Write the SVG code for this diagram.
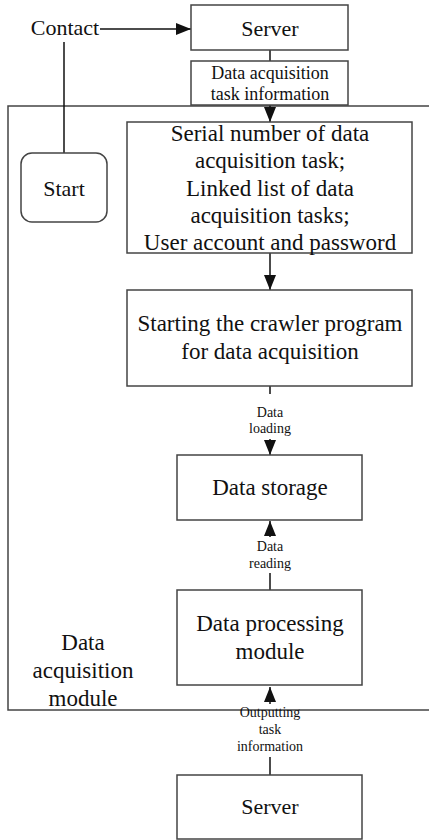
<svg xmlns="http://www.w3.org/2000/svg" width="429" height="840" viewBox="0 0 429 840" font-family="'Liberation Serif', 'DejaVu Serif', serif">
<style>
text{font-family:'Liberation Serif','DejaVu Serif',serif;fill:#111;text-anchor:middle}
.box{fill:#fff;stroke:#444;stroke-width:1.5}
.ln{stroke:#111;stroke-width:1.5;fill:none}
.big{font-size:23px}
.mid{font-size:22px}
.lbl{font-size:18px}
.sm{font-size:14px}
</style>
<defs>
<marker id="ah2" viewBox="0 0 15 12" refX="15" refY="6" markerWidth="15" markerHeight="12" markerUnits="userSpaceOnUse" orient="auto">
<path d="M0,0 L15,6 L0,12 Z" fill="#111"/>
</marker>
</defs>
<g id="module">
<rect class="box" x="8" y="106" width="430" height="604" fill="none"/>
<text class="big" x="83" y="650">Data</text>
<text class="big" x="83" y="678">acquisition</text>
<text class="big" x="83" y="706">module</text>
</g>
<g id="connectors">
<line class="ln" x1="100" y1="29" x2="191" y2="29" marker-end="url(#ah2)"/>
<line class="ln" x1="64" y1="42" x2="64" y2="153"/>
<line class="ln" x1="270" y1="50" x2="270" y2="61"/>
<line class="ln" x1="270" y1="105" x2="270" y2="122" marker-end="url(#ah2)"/>
<line class="ln" x1="270" y1="253" x2="270" y2="290" marker-end="url(#ah2)"/>
<line class="ln" x1="270" y1="386" x2="270" y2="394"/>
<line class="ln" x1="270" y1="439" x2="270" y2="455" marker-end="url(#ah2)"/>
<line class="ln" x1="270" y1="537" x2="270" y2="521" marker-end="url(#ah2)"/>
<line class="ln" x1="270" y1="573" x2="270" y2="590"/>
<line class="ln" x1="270" y1="704" x2="270" y2="687" marker-end="url(#ah2)"/>
<line class="ln" x1="270" y1="757" x2="270" y2="775"/>
<text class="sm" x="270" y="417">Data</text>
<text class="sm" x="270" y="433">loading</text>
<text class="sm" x="270" y="551">Data</text>
<text class="sm" x="270" y="568">reading</text>
<text class="sm" x="270" y="717">Outputting</text>
<text class="sm" x="270" y="734">task</text>
<text class="sm" x="270" y="751">information</text>
</g>
<g id="contact">
<text class="mid" x="65" y="35">Contact</text>
</g>
<g id="server-top">
<rect class="box" x="191" y="5" width="157" height="45"/>
<text class="mid" x="270" y="36">Server</text>
</g>
<g id="task-info">
<rect class="box" x="191" y="61" width="157" height="44"/>
<text class="lbl" x="270" y="79">Data acquisition</text>
<text class="lbl" x="270" y="100">task information</text>
</g>
<g id="start">
<rect class="box" x="21" y="153" width="86" height="69" rx="11"/>
<text class="mid" x="64" y="196">Start</text>
</g>
<g id="task-params">
<rect class="box" x="127" y="122" width="285" height="131"/>
<text class="big" x="270" y="141">Serial number of data</text>
<text class="big" x="270" y="168">acquisition task;</text>
<text class="big" x="270" y="196">Linked list of data</text>
<text class="big" x="270" y="223">acquisition tasks;</text>
<text class="big" x="270" y="250">User account and password</text>
</g>
<g id="crawler">
<rect class="box" x="127" y="290" width="285" height="96"/>
<text class="big" x="270" y="331">Starting the crawler program</text>
<text class="big" x="270" y="359">for data acquisition</text>
</g>
<g id="storage">
<rect class="box" x="177" y="455" width="185" height="65"/>
<text class="big" x="270" y="495">Data storage</text>
</g>
<g id="processing">
<rect class="box" x="177" y="590" width="185" height="95"/>
<text class="big" x="270" y="631">Data processing</text>
<text class="big" x="270" y="659">module</text>
</g>
<g id="server-bottom">
<rect class="box" x="177" y="775" width="185" height="64"/>
<text class="mid" x="270" y="814">Server</text>
</g>
</svg>
